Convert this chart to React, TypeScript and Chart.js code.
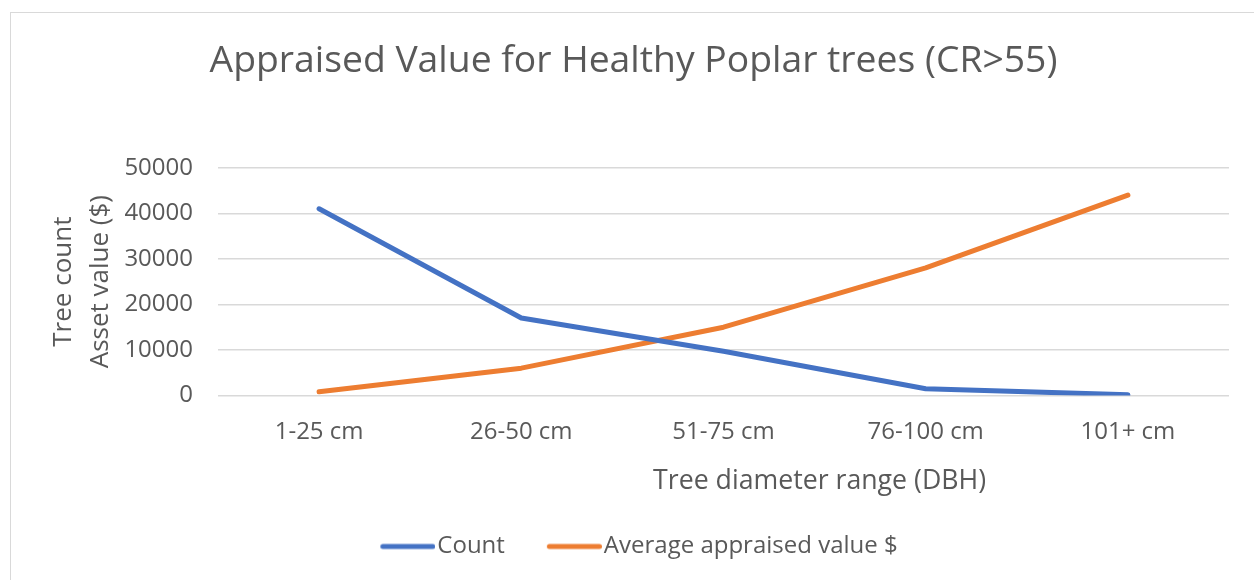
import React, { useEffect, useRef } from "react";
import { Chart, registerables } from "chart.js";

Chart.register(...registerables);

const categories = ["1-25 cm", "26-50 cm", "51-75 cm", "76-100 cm", "101+ cm"];
const countValues = [41000, 17000, 9700, 1500, 150];
const avgValues = [800, 6000, 15000, 28000, 44000];
const yTicks = [0, 10000, 20000, 30000, 40000, 50000];
const chartTitle = "Appraised Value for Healthy Poplar trees (CR>55)";
const yTitle = ["Tree count", "Asset value ($)"];
const xTitle = "Tree diameter range (DBH)";

const FONT = "'Open Sans', 'Noto Sans', sans-serif";
const TEXT = "#595959";
const BLUE = "#4472C4";
const ORANGE = "#ED7D31";

// legend sample: a 55px round-capped line sitting at the right of a wider transparent image
function legendLine(color: string): HTMLCanvasElement {
  const c = document.createElement("canvas");
  c.width = 76;
  c.height = 8;
  const ctx = c.getContext("2d")!;
  ctx.strokeStyle = color;
  ctx.lineWidth = 5;
  ctx.lineCap = "round";
  ctx.beginPath();
  ctx.moveTo(21 + 2.5, 4);
  ctx.lineTo(76 - 2.5, 4);
  ctx.stroke();
  return c;
}

const xTitlePlugin = {
  id: "xTitlePlugin",
  afterDraw(chart: any) {
    const { ctx, chartArea } = chart;
    ctx.save();
    ctx.font = `26.7px ${FONT}`;
    ctx.fillStyle = TEXT;
    ctx.textAlign = "center";
    ctx.textBaseline = "middle";
    const x = chartArea.left + (chartArea.right - chartArea.left) * 0.595;
    ctx.fillText(xTitle, x, chartArea.bottom + 86);
    ctx.restore();
  },
};

export default function App() {
  const ref = useRef<HTMLCanvasElement>(null);
  useEffect(() => {
    if (!ref.current) return;
    const chart = new Chart(ref.current, {
      type: "line",
      data: {
        labels: categories,
        datasets: [
          {
            label: "Count",
            data: countValues,
            borderColor: BLUE,
            backgroundColor: BLUE,
            borderWidth: 5,
            borderCapStyle: "round",
            borderJoinStyle: "round",
            pointRadius: 0,
            pointStyle: legendLine(BLUE) as any,
            tension: 0,
          },
          {
            label: "Average appraised value $",
            data: avgValues,
            borderColor: ORANGE,
            backgroundColor: ORANGE,
            borderWidth: 5,
            borderCapStyle: "round",
            borderJoinStyle: "round",
            pointRadius: 0,
            pointStyle: legendLine(ORANGE) as any,
            tension: 0,
          },
        ],
      },
      options: {
        responsive: false,
        animation: false,
        layout: { padding: { left: 27, right: 28, top: 0, bottom: 16.5 } },
        plugins: {
          title: {
            display: true,
            text: chartTitle,
            color: TEXT,
            font: { family: FONT, size: 37.3, weight: "normal", lineHeight: 1.2 },
            padding: { top: 24, bottom: 84 },
          },
          legend: {
            position: "bottom",
            labels: {
              usePointStyle: true,
              pointStyleWidth: 56,
              padding: 31,
              color: TEXT,
              font: { family: FONT, size: 24 },
            },
          },
          tooltip: { enabled: false },
        },
        scales: {
          x: {
            type: "category",
            offset: true,
            grid: { display: false, drawTicks: false },
            border: { display: false },
            ticks: {
              color: TEXT,
              font: { family: FONT, size: 24 },
              padding: 22,
              maxRotation: 0,
            },
            afterFit: (scale: any) => {
              scale.height = 108;
            },
          },
          y: {
            min: 0,
            max: 50000,
            afterBuildTicks: (scale: any) => {
              scale.ticks = yTicks.map((v) => ({ value: v }));
            },
            grid: { color: "#d9d9d9", lineWidth: 1.5, drawTicks: false },
            border: { display: false },
            ticks: {
              color: TEXT,
              font: { family: FONT, size: 24 },
              padding: 25,
              callback: (v: any) => String(v),
            },
            title: {
              display: true,
              text: yTitle,
              color: TEXT,
              font: { family: FONT, size: 26, lineHeight: 1.42 },
              padding: { top: 7, bottom: 0 },
            },
            afterFit: (scale: any) => {
              scale.width = 180;
            },
          },
        },
      },
      plugins: [xTitlePlugin],
    });
    return () => chart.destroy();
  }, []);

  return (
    <div
      style={{
        position: "fixed",
        left: 0,
        top: 0,
        width: 1254,
        height: 580,
        background: "#fff",
        overflow: "hidden",
      }}
    >
      <div
        style={{
          position: "absolute",
          left: 10,
          top: 12,
          width: 1246,
          height: 600,
          border: "1.5px solid #d9d9d9",
          background: "#fff",
        }}
      >
        <canvas
          ref={ref}
          width={1246}
          height={570}
          style={{ display: "block", marginTop: 2 }}
        />
      </div>
    </div>
  );
}
